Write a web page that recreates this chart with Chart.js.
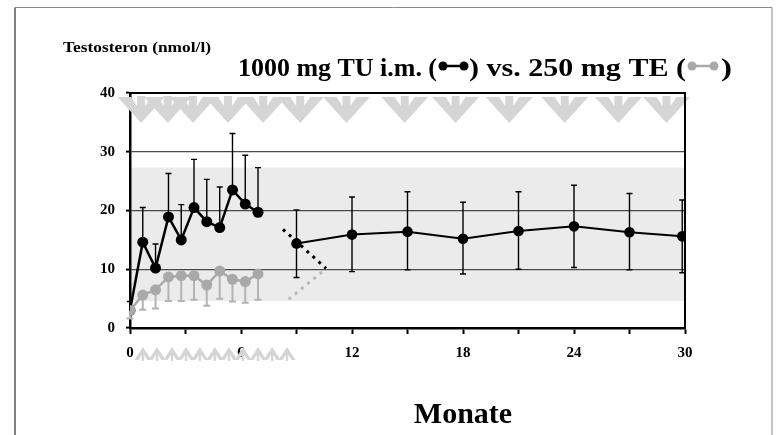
<!DOCTYPE html>
<html><head><meta charset="utf-8">
<script src="https://cdn.jsdelivr.net/npm/chart.js@4"></script>
<style>html,body{margin:0;padding:0;background:#fff}#wrap{width:781px;height:435px;position:relative}</style>
</head><body><div id="wrap"><canvas id="c" width="781" height="435"></canvas></div>
<script>
// ---- data (months, nmol/l) ----
const monthsEarly = [0, 0.69, 1.38, 2.08, 2.77, 3.46, 4.15, 4.85, 5.54, 6.23, 6.92];
const meanTU      = [3.0, 14.6, 10.2, 18.9, 15.0, 20.5, 18.1, 17.1, 23.5, 21.1, 19.7];
const upperTU     = [4.5, 20.5, 14.3, 26.3, 21.0, 28.7, 25.3, 24.0, 33.1, 29.4, 27.3];
const meanTE      = [3.0, 5.6, 6.5, 8.7, 8.9, 8.9, 7.3, 9.7, 8.3, 7.9, 9.2];
const lowerTE     = [1.6, 3.1, 3.3, 4.6, 4.6, 4.8, 3.8, 5.0, 4.5, 4.3, 4.8];
const monthsLate  = [9, 12, 15, 18, 21, 24, 27, 29.85];
const meanLate    = [14.4, 15.9, 16.4, 15.2, 16.5, 17.3, 16.3, 15.6];
const upperLate   = [20.1, 22.3, 23.2, 21.4, 23.2, 24.3, 22.9, 21.8];
const lowerLate   = [8.6, 9.6, 9.9, 9.2, 10.0, 10.3, 9.9, 9.4];
const switchTUx = [8.27, 10.6];
const switchTUy = [16.8, 10.15];
const switchTEx = [8.58, 10.6];
const switchTEy = [4.9, 10.1];
const tuInjections = [0.6, 2.04, 3.4, 5.3, 7.2, 9.2, 11.7, 14.85, 17.6, 20.5, 23.5, 26.4, 29.0];
const teInjections = [0.7, 1.46, 2.27, 3.03, 3.78, 4.59, 5.35, 6.11, 6.92, 7.68, 8.49];
const refRange = [4.6, 27.3];
const xTickLabels = [0, 6, 12, 18, 24, 30];
const yTickValues = [0, 10, 20, 30, 40];
const titleParts = ['1000 mg TU i.m. (', ') vs. 250 mg TE (', ')'];
const yLabel = 'Testosteron (nmol/l)';
const xLabel = 'Monate';

const SERIF = '"Liberation Serif", "Times New Roman", serif';
const BLACK = '#000000', GRAY = '#a9a9a9', GRAY_ERR = '#b3b3b3', ARROW = '#d5d5d5';

const pts = (xs, ys) => xs.map((x, i) => ({x, y: ys[i]}));

const bandPlugin = {
  id: 'band',
  beforeDraw(chart) {
    const {ctx, chartArea: a, scales: {y}} = chart;
    const y1 = y.getPixelForValue(refRange[1]), y0 = y.getPixelForValue(refRange[0]);
    ctx.save(); ctx.fillStyle = '#ebebeb';
    ctx.fillRect(a.left, y1, a.right - a.left, y0 - y1);
    ctx.restore();
  }
};

function downArrow(ctx, cx, T) {
  const W = 23.5;
  ctx.beginPath();
  ctx.moveTo(cx - W, T + 1);
  ctx.lineTo(cx - 10, T + 1);
  ctx.lineTo(cx - 4, T + 10);
  ctx.lineTo(cx - 4, T);
  ctx.lineTo(cx + 4, T);
  ctx.lineTo(cx + 4, T + 10);
  ctx.lineTo(cx + 10, T + 1);
  ctx.lineTo(cx + W, T + 1);
  ctx.lineTo(cx, T + 27);
  ctx.closePath(); ctx.fill();
}
function upArrow(ctx, cx, B) {
  const W = 8.5;
  ctx.beginPath();
  ctx.moveTo(cx, B);
  ctx.lineTo(cx + W, B + 13);
  ctx.lineTo(cx + W - 4, B + 13);
  ctx.lineTo(cx + 1.2, B + 8);
  ctx.lineTo(cx + 1.2, B + 14);
  ctx.lineTo(cx - 1.2, B + 14);
  ctx.lineTo(cx - 1.2, B + 8);
  ctx.lineTo(cx - W + 4, B + 13);
  ctx.lineTo(cx - W, B + 13);
  ctx.closePath(); ctx.fill();
}

const errPlugin = {
  id: 'err',
  beforeDatasetsDraw(chart) {
    const {ctx, chartArea: a, scales: {x, y}} = chart;
    ctx.save(); ctx.fillStyle = ARROW;
    tuInjections.forEach(m => downArrow(ctx, x.getPixelForValue(m), a.top + 3));
    ctx.restore();
    chart.data.datasets.forEach(ds => {
      if (!ds.err) return;
      ctx.save();
      ctx.strokeStyle = ds.err.color; ctx.lineWidth = ds.err.width;
      ds.data.forEach((p, i) => {
        const px = x.getPixelForValue(p.x), py = y.getPixelForValue(p.y);
        [ds.err.up && ds.err.up[i], ds.err.down && ds.err.down[i]].forEach(v => {
          if (v == null) return;
          const yy = y.getPixelForValue(v);
          ctx.beginPath();
          ctx.moveTo(px, py); ctx.lineTo(px, yy);
          ctx.moveTo(px - ds.err.cap, yy); ctx.lineTo(px + ds.err.cap, yy);
          ctx.stroke();
        });
      });
      ctx.restore();
    });
  }
};

// draw real text, horizontally fitted to span [x0, x1]
function stretchText(ctx, text, x0, x1, base) {
  const w = ctx.measureText(text).width;
  ctx.save();
  ctx.translate(x0, base); ctx.scale((x1 - x0) / w, 1);
  ctx.textAlign = 'left';
  ctx.fillText(text, 0, 0);
  ctx.restore();
}

const decoPlugin = {
  id: 'deco',
  afterDraw(chart) {
    const {ctx, chartArea: a, scales: {x}} = chart;
    ctx.save();
    ctx.strokeStyle = '#000'; ctx.lineWidth = 2;
    ctx.beginPath();
    ctx.moveTo(a.left, a.top); ctx.lineTo(a.right, a.top); ctx.lineTo(a.right, a.bottom);
    ctx.stroke();
    ctx.strokeStyle = '#555'; ctx.lineWidth = 1.5;
    ctx.beginPath(); ctx.moveTo(15, 435); ctx.lineTo(15, 7.5); ctx.stroke();
    ctx.strokeStyle = '#8a8a8a'; ctx.lineWidth = 1;
    ctx.beginPath(); ctx.moveTo(15, 7.5); ctx.lineTo(772, 7.5); ctx.lineTo(772, 435); ctx.stroke();
    ctx.fillStyle = ARROW;
    teInjections.forEach(m => upArrow(ctx, x.getPixelForValue(m), a.bottom + 19));
    ctx.fillStyle = '#000';
    ctx.textBaseline = 'alphabetic';
    ctx.font = 'bold 15px ' + SERIF;
    stretchText(ctx, yLabel, 63, 211, 52);
    ctx.font = 'bold 30px ' + SERIF; ctx.textAlign = 'center';
    ctx.fillText(xLabel, 463, 423);
    ctx.font = 'bold 25px ' + SERIF;
    const tb = 76, sy = 66;
    const glyph = (col, g0, g1) => {
      ctx.strokeStyle = col; ctx.fillStyle = col; ctx.lineWidth = 2.5;
      ctx.beginPath(); ctx.moveTo(g0 + 4, sy); ctx.lineTo(g1 - 4, sy); ctx.stroke();
      ctx.beginPath(); ctx.arc(g0 + 5, sy, 4.5, 0, Math.PI * 2); ctx.fill();
      ctx.beginPath(); ctx.arc(g1 - 5, sy, 4.5, 0, Math.PI * 2); ctx.fill();
      ctx.fillStyle = '#000';
    };
    stretchText(ctx, titleParts[0], 238, 437, tb);
    glyph(BLACK, 438, 469);
    stretchText(ctx, titleParts[1], 469, 686, tb);
    glyph(GRAY, 687, 719);
    stretchText(ctx, titleParts[2], 721, 732, tb);
    ctx.restore();
  }
};

new Chart(document.getElementById('c'), {
  type: 'scatter',
  data: {
    datasets: [
      { data: pts(monthsEarly, meanTE), showLine: true, borderColor: GRAY, backgroundColor: GRAY,
        borderWidth: 2.5, pointRadius: 5.5, pointBorderWidth: 0, pointBackgroundColor: GRAY,
        err: {down: lowerTE, color: GRAY_ERR, width: 2, cap: 3.5} },
      { data: pts(monthsEarly, meanTU), showLine: true, borderColor: BLACK, backgroundColor: BLACK,
        borderWidth: 2.5, pointRadius: 5.5, pointBorderWidth: 0, pointBackgroundColor: BLACK,
        err: {up: upperTU, color: BLACK, width: 1.4, cap: 3} },
      { data: pts(monthsLate, meanLate), showLine: true, borderColor: BLACK, backgroundColor: BLACK,
        borderWidth: 2, pointRadius: 5.3, pointBorderWidth: 0, pointBackgroundColor: BLACK,
        err: {up: upperLate, down: lowerLate, color: BLACK, width: 1.4, cap: 3} },
      { data: pts(switchTUx, switchTUy), showLine: true, borderColor: BLACK, borderWidth: 3,
        borderDash: [3, 5], pointRadius: 0 },
      { data: pts(switchTEx, switchTEy), showLine: true, borderColor: '#b8b8b8', borderWidth: 3,
        borderDash: [3, 5], pointRadius: 0 }
    ]
  },
  options: {
    responsive: false, animation: false, devicePixelRatio: 1,
    layout: {padding: {left: 0, top: 93, right: 96, bottom: 0}},
    plugins: {legend: {display: false}, tooltip: {enabled: false}, title: {display: false}},
    scales: {
      x: {
        type: 'linear', min: 0, max: 30,
        afterFit: s => { s.height = 107; },
        afterBuildTicks: s => { s.ticks = [0,3,6,9,12,15,18,21,24,27,30].map(v => ({value: v})); },
        ticks: {
          callback: v => xTickLabels.includes(v) ? String(v) : '',
          color: '#000', font: {family: SERIF, size: 15, weight: 'bold'}, padding: 10, maxRotation: 0, autoSkip: false
        },
        grid: {drawOnChartArea: false, drawTicks: true, tickLength: 6, tickColor: '#000', tickWidth: 2},
        border: {color: '#000', width: 2.5}
      },
      y: {
        type: 'linear', min: 0, max: 40,
        afterFit: s => { s.width = 130; },
        afterBuildTicks: s => { s.ticks = yTickValues.map(v => ({value: v})); },
        ticks: {color: '#000', font: {family: SERIF, size: 15, weight: 'bold'}, padding: 11},
        grid: {color: '#4a4a4a', lineWidth: 1.2, tickLength: 4, tickColor: '#000', tickWidth: 2},
        border: {color: '#000', width: 2.5}
      }
    }
  },
  plugins: [bandPlugin, errPlugin, decoPlugin]
});
</script></body></html>
